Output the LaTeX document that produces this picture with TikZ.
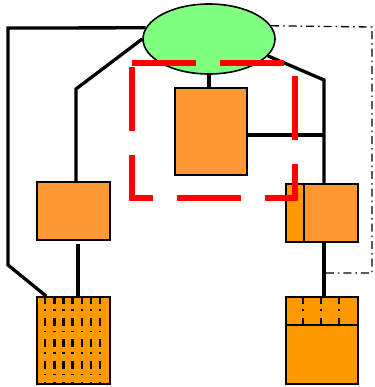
\documentclass[tikz,border=0pt]{standalone}
\usepackage{tikz}
\usetikzlibrary{shapes.geometric}
\definecolor{leafgreen}{HTML}{80FF80}
\definecolor{paleorange}{HTML}{FF9933}
\definecolor{deeporange}{HTML}{FF9900}

\begin{document}
\begin{tikzpicture}[x=1pt, y=-1pt,
    hub/.style={ellipse, draw, line width=1.6pt, fill=leafgreen, minimum width=132pt, minimum height=70pt, inner sep=0pt},
    block/.style={rectangle, draw, line width=1.8pt, fill=paleorange, inner sep=0pt},
    store/.style={block, fill=deeporange},
    wire/.style={line width=3.3pt},
    ticks/.style={line width=2.4pt, dash pattern=on 8pt off 5pt on 1.5pt off 7pt},
    frame/.style={line width=6pt, red, dash pattern=on 64pt off 24pt},
    link/.style={line width=1.3pt, dash pattern=on 8pt off 4pt on 1.5pt off 4pt}]
    \useasboundingbox (0,0) rectangle (374,387);
    \node [hub] (root) at (209,39) {};
    \node [block, minimum width=72pt, minimum height=87pt] (mid) at (211,131.5) {};
    \node [block, minimum width=73pt, minimum height=58pt] (leftbox) at (73.5,211) {};
    \node [store, minimum width=73pt, minimum height=87pt] (leftstore) at (73.5,340.5) {};
    \node [store, minimum width=54pt, minimum height=58pt] (rightback) at (313,213) {};
    \node [block, minimum width=54pt, minimum height=58pt] (rightfront) at (331,213) {};
    \node [store, minimum width=72pt, minimum height=87pt] (rightstore) at (322,340.5) {};
    \coordinate (tap) at (324,273);
    % solid wires
    \draw [wire] (root.170) -- (8,28) -- (8,265) -- ([xshift=10pt]leftstore.north west);
    \draw [wire] (root.west) -- (76,89) -- ([xshift=2.5pt]leftbox.north);
    \draw [wire] ([xshift=4.5pt,yshift=-3pt]leftbox.south) -- ([xshift=4.5pt]leftstore.north);
    \draw [wire] (root.south) -- (root.south |- mid.north);
    \draw [wire] (root.-16) -- (324,80) -- ([xshift=-7pt]rightfront.north);
    \draw [wire] ([yshift=-3.5pt]mid.east) -- (324,135);
    \draw [wire] ([xshift=-7pt]rightfront.south) -- ([xshift=2pt]rightstore.north);
    % dash-dot link
    \draw [link] (root.12) -- (372,27) -- (372,273) -- (tap);
    % store markings
    \foreach \i in {1,...,7}
        \draw [ticks] ([xshift={9.125pt*\i}]leftstore.north west) -- ([xshift={9.125pt*\i}]leftstore.south west);
    \foreach \i in {1,2,3}
        \draw [ticks] ([xshift={18pt*\i}]rightstore.north west) -- ++(0,29);
    \draw [line width=1.8pt] ([yshift=-29pt]rightstore.north west) -- ([yshift=-29pt]rightstore.north east);
    % red group frame
    \draw [frame] (132,63) -- (295,63) -- (295,198) -- (132,198) -- cycle;
\end{tikzpicture}
\end{document}
